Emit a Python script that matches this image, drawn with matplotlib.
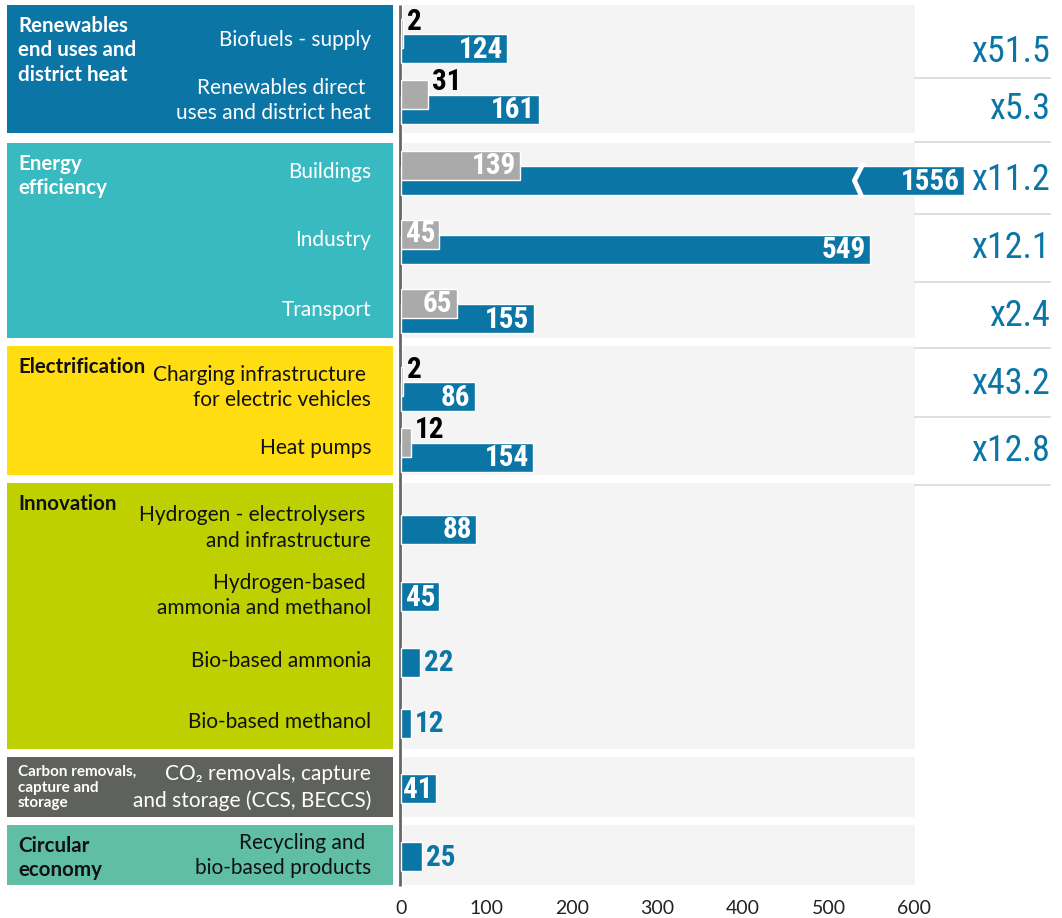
import matplotlib
matplotlib.use('Agg')
import matplotlib.pyplot as plt
from matplotlib import font_manager
from matplotlib.patches import Rectangle

# ---- data ----
groups = ["Renewables\nend uses and\ndistrict heat", "Energy\nefficiency", "Electrification",
          "Innovation", "Carbon removals,\ncapture and\nstorage", "Circular\neconomy"]
categories = ["Biofuels - supply", "Renewables direct \nuses and district heat", "Buildings",
              "Industry", "Transport", "Charging infrastructure \nfor electric vehicles",
              "Heat pumps", "Hydrogen - electrolysers \nand infrastructure",
              "Hydrogen-based \nammonia and methanol", "Bio-based ammonia", "Bio-based methanol",
              "CO\u2082 removals, capture\nand storage (CCS, BECCS)", "Recycling and \nbio-based products"]
category_group = [0, 0, 1, 1, 1, 2, 2, 3, 3, 3, 3, 4, 5]
current = [2, 31, 139, 45, 65, 2, 12, None, None, None, None, None, None]
needed = [124, 161, 1556, 549, 155, 86, 154, 88, 45, 22, 12, 41, 25]
multipliers = ["x51.5", "x5.3", "x11.2", "x12.1", "x2.4", "x43.2", "x12.8"]

# ---- layout (pixel units, figure is 1062 x 918) ----
W, H = 1062, 918
group_top = [5, 143, 346, 483, 757, 825]
group_bottom = [133, 338, 475, 749, 817, 885]
group_colors = ["#0b75a6", "#39b9c0", "#ffdd11", "#bed000", "#5e615c", "#5fbea5"]
group_text = ["white", "white", "#111111", "#111111", "white", "#111111"]
row_y = [48.5, 109.5, 180.5, 249.5, 318.5, 396.5, 457, 529, 596.5, 662, 723.5, 788.5, 856.5]
mult_y = [52, 109, 180, 248, 316, 384, 451]
sep_y = [78, 142, 214, 282, 348, 417, 485]
x0_px, x600_px = 401, 914
bar_h = 29
gray_shift = 15
break_end = 658      # where a broken bar stops on the value scale
break_at = 535

BLUE = "#0b75a6"
GRAY = "#aaaaaa"
BG = "#f4f4f4"
LABEL_FONT = ['Lato', 'DejaVu Sans']


def pick_condensed():
    found = {}
    for f in font_manager.fontManager.ttflist:
        st = f.stretch
        narrow = ('Condensed' in f.name or 'Narrow' in f.name or
                  (isinstance(st, str) and 'condensed' in st) or
                  (isinstance(st, (int, float)) and st < 500))
        if narrow:
            found.setdefault(f.name, st)
    for pref in ['Roboto Condensed', 'Liberation Sans Narrow', 'DejaVu Sans Condensed',
                 'Open Sans Condensed', 'Noto Sans Condensed', 'DejaVu Sans']:
        if pref in found:
            return dict(family=[pref, 'DejaVu Sans'], stretch=found[pref])
    if found:
        name = sorted(found)[0]
        return dict(family=[name, 'DejaVu Sans'], stretch=found[name])
    return dict(family=['DejaVu Sans'], stretch='condensed')


NUM = pick_condensed()

fig = plt.figure(figsize=(W / 100, H / 100), dpi=100)
fig.patch.set_facecolor("white")
renderer = fig.canvas.get_renderer()


def fit_size(sample, target_px, **kw):
    t = fig.text(0, 0, sample, fontsize=20, **NUM, **kw)
    w = t.get_window_extent(renderer).width
    t.remove()
    return 20 * target_px / w


VAL_SIZE = min(fit_size("1556", 60, fontweight='bold'), 21)
MULT_SIZE = min(fit_size("x51.5", 80), 26)

# decoration axes in pixel coordinates
deco = fig.add_axes([0, 0, 1, 1])
deco.set_xlim(0, W)
deco.set_ylim(H, 0)
deco.axis('off')

# bar axes, value scale 0..600
ax = fig.add_axes([x0_px / W, (H - 890) / H, (x600_px - x0_px) / W, 890 / H])
ax.set_xlim(0, 600)
ax.set_ylim(890, 0)
ax.patch.set_alpha(0)
for s in ax.spines.values():
    s.set_visible(False)
ax.set_yticks([])
ax.set_xticks(range(0, 601, 100))
ax.tick_params(axis='x', length=0, pad=7, labelsize=14, labelcolor="#222222")
for lab in ax.get_xticklabels():
    lab.set_family(LABEL_FONT)

u = 600 / (x600_px - x0_px)   # value units per pixel
pad = 4 * u

for g in range(len(groups)):
    top, bot = group_top[g], group_bottom[g]
    deco.add_patch(Rectangle((7, top), 386, bot - top, color=group_colors[g], lw=0))
    deco.add_patch(Rectangle((403, top), 512, bot - top, color=BG, lw=0))
    small = g == 4
    deco.text(18, top + (8 if small else 11), groups[g], ha='left', va='top',
              fontsize=11 if small else 14.8, fontweight='bold', color=group_text[g],
              family=LABEL_FONT, linespacing=1.15 if small else 1.28)

deco.plot([400, 400], [5, 886], color="#666666", lw=2, solid_capstyle='butt')

for y in sep_y:
    deco.plot([915, 1050], [y, y], color="#d9d9d9", lw=1.2)

for i, cat in enumerate(categories):
    g = category_group[i]
    by = row_y[i]
    has_gray = current[i] is not None
    ly = by - 9 if has_gray else by - 1
    deco.text(371, ly, cat, ha='right', va='center', fontsize=15, color=group_text[g],
              family=LABEL_FONT, linespacing=1.33)

    v = needed[i]
    shown = min(v, break_end)
    ax.barh(by, shown, height=bar_h, left=0, color=BLUE, edgecolor='white', lw=1,
            clip_on=False, zorder=2)
    if v > break_end:
        ax.plot([break_at + 4 * u, break_at - 4 * u, break_at + 3 * u],
                [by - bar_h / 2 - 1, by, by + bar_h / 2 + 1],
                color='white', lw=3.5, zorder=3, clip_on=False)
    if v >= 40:
        ax.text(shown - pad, by + 1, str(v), ha='right', va='center', color='white',
                fontsize=VAL_SIZE, fontweight='bold', zorder=5, clip_on=False, **NUM)
    else:
        ax.text(shown + pad, by + 1, str(v), ha='left', va='center', color=BLUE,
                fontsize=VAL_SIZE, fontweight='bold', zorder=5, **NUM)

    if has_gray:
        c = current[i]
        gy = by - gray_shift
        ax.barh(gy, c, height=bar_h, left=0, color=GRAY, edgecolor='white', lw=1, zorder=4)
        if c >= 40:
            ax.text(c - pad, gy, str(c), ha='right', va='center', color='white',
                    fontsize=VAL_SIZE, fontweight='bold', zorder=5, **NUM)
        else:
            ax.text(c + pad, gy - 12, str(c), ha='left', va='center', color='black',
                    fontsize=VAL_SIZE, fontweight='bold', zorder=5, **NUM)

for m, y in zip(multipliers, mult_y):
    deco.text(1050, y, m, ha='right', va='center', fontsize=MULT_SIZE, color=BLUE, **NUM)

fig.savefig("out.png", dpi=100)
